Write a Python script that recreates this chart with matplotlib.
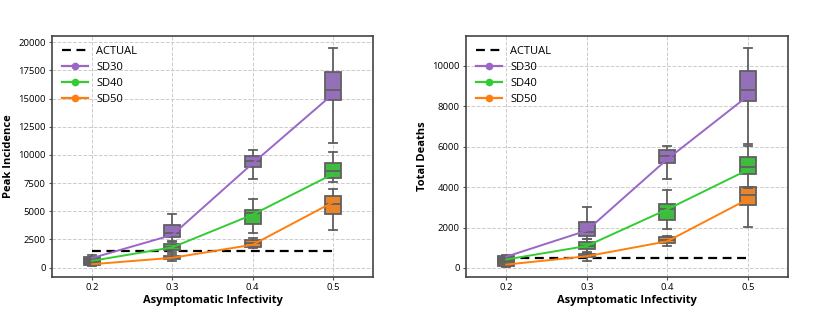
import matplotlib
matplotlib.use("Agg")
import matplotlib.pyplot as plt
from matplotlib.lines import Line2D

plt.rcParams["font.family"] = ["Open Sans", "DejaVu Sans"]

infectivity = [0.2, 0.3, 0.4, 0.5]
series = ["SD30", "SD40", "SD50"]
line_colors = {"SD30": "#9a66c8", "SD40": "#33cc33", "SD50": "#ff7f0e"}
box_colors = {"SD30": "#9470b9", "SD40": "#3fbb3f", "SD50": "#e8852b"}

# peak incidence: whisker low, q1, median, q3, whisker high, mean
peak_low = {"SD30": [450, 2250, 7850, 11100], "SD40": [300, 1400, 3100, 7600], "SD50": [100, 560, 1750, 3350]}
peak_q1 = {"SD30": [600, 2750, 8930, 14850], "SD40": [450, 1600, 3850, 7980], "SD50": [200, 720, 1860, 4780]}
peak_med = {"SD30": [750, 3100, 9460, 15800], "SD40": [600, 1800, 4880, 8550], "SD50": [300, 860, 2180, 5680]}
peak_q3 = {"SD30": [950, 3740, 9950, 17380], "SD40": [750, 2070, 5120, 9320], "SD50": [400, 1040, 2450, 6400]}
peak_high = {"SD30": [1100, 4800, 10450, 19500], "SD40": [900, 2380, 6080, 10230], "SD50": [550, 1200, 2600, 7000]}
peak_mean = {"SD30": [850, 2900, 9250, 15400], "SD40": [600, 1800, 4700, 8300], "SD50": [300, 870, 2030, 5800]}
peak_actual = 1500

# total deaths
death_low = {"SD30": [200, 1450, 4420, 6150], "SD40": [150, 800, 1920, 4000], "SD50": [50, 350, 1070, 2030]}
death_q1 = {"SD30": [300, 1560, 5200, 8270], "SD40": [250, 930, 2360, 4670], "SD50": [100, 550, 1240, 3100]}
death_med = {"SD30": [450, 1780, 5550, 8780], "SD40": [380, 1110, 2940, 5000], "SD50": [200, 600, 1400, 3600]}
death_q3 = {"SD30": [600, 2290, 5850, 9750], "SD40": [500, 1290, 3140, 5470], "SD50": [300, 670, 1530, 4000]}
death_high = {"SD30": [650, 3020, 6020, 10900], "SD40": [580, 1420, 3850, 6020], "SD50": [380, 720, 1560, 3950]}
death_mean = {"SD30": [560, 1850, 5380, 8500], "SD40": [420, 1090, 2900, 4850], "SD50": [170, 580, 1320, 3400]}
death_actual = 500


def draw_panel(ax, low, q1, med, q3, high, mean, actual, ylabel, yticks):
    ax.plot(infectivity, [actual] * len(infectivity), color="black", ls=(0, (4, 2.5)), lw=1.6, zorder=2)
    for s in series:
        stats = []
        for i in range(len(infectivity)):
            stats.append({"whislo": low[s][i], "q1": q1[s][i], "med": med[s][i],
                          "q3": q3[s][i], "whishi": high[s][i], "fliers": []})
        ax.bxp(stats, positions=infectivity, widths=0.02, capwidths=0.01, patch_artist=True,
               manage_ticks=False, showfliers=False,
               boxprops=dict(facecolor=box_colors[s], edgecolor="#606060", linewidth=1.3),
               medianprops=dict(color="#606060", linewidth=1.3),
               whiskerprops=dict(color="#606060", linewidth=1.3),
               capprops=dict(color="#606060", linewidth=1.3))
        ax.plot(infectivity, mean[s], color=line_colors[s], lw=1.4, zorder=4)
    ax.set_xlim(0.15, 0.55)
    ax.set_xticks(infectivity)
    ax.set_xticklabels([str(v) for v in infectivity])
    ax.set_yticks(yticks)
    ax.set_xlabel("Asymptomatic Infectivity", fontsize=8, fontweight="bold", labelpad=2)
    ax.set_ylabel(ylabel, fontsize=8, fontweight="bold", labelpad=3)
    ax.tick_params(labelsize=6.8, length=2.5, width=0.8, color="#555555", pad=2)
    ax.grid(True, ls="--", color="#cccccc", lw=0.7)
    ax.set_axisbelow(True)
    for sp in ax.spines.values():
        sp.set_color("#444444")
        sp.set_linewidth(1.2)
    handles = [Line2D([], [], color="black", ls=(0, (4, 2.5)), lw=1.6, label="ACTUAL")]
    for s in series:
        handles.append(Line2D([], [], color=line_colors[s], lw=1.6, marker="o", markersize=4.5, label=s))
    ax.legend(handles=handles, loc="upper left", frameon=False, fontsize=8,
              handlelength=2.3, labelspacing=0.45, borderaxespad=0.5)


fig = plt.figure(figsize=(8.3, 3.11), dpi=100)
ax1 = fig.add_axes([52 / 830, 1 - 277 / 311, 321 / 830, 241 / 311])
ax2 = fig.add_axes([466 / 830, 1 - 277 / 311, 322 / 830, 241 / 311])

draw_panel(ax1, peak_low, peak_q1, peak_med, peak_q3, peak_high, peak_mean, peak_actual,
           "Peak Incidence", [0, 2500, 5000, 7500, 10000, 12500, 15000, 17500, 20000])
ax1.set_ylim(-835, 20560)
draw_panel(ax2, death_low, death_q1, death_med, death_q3, death_high, death_mean, death_actual,
           "Total Deaths", [0, 2000, 4000, 6000, 8000, 10000])
ax2.set_ylim(-445, 11470)

fig.savefig("out.png", dpi=100)
